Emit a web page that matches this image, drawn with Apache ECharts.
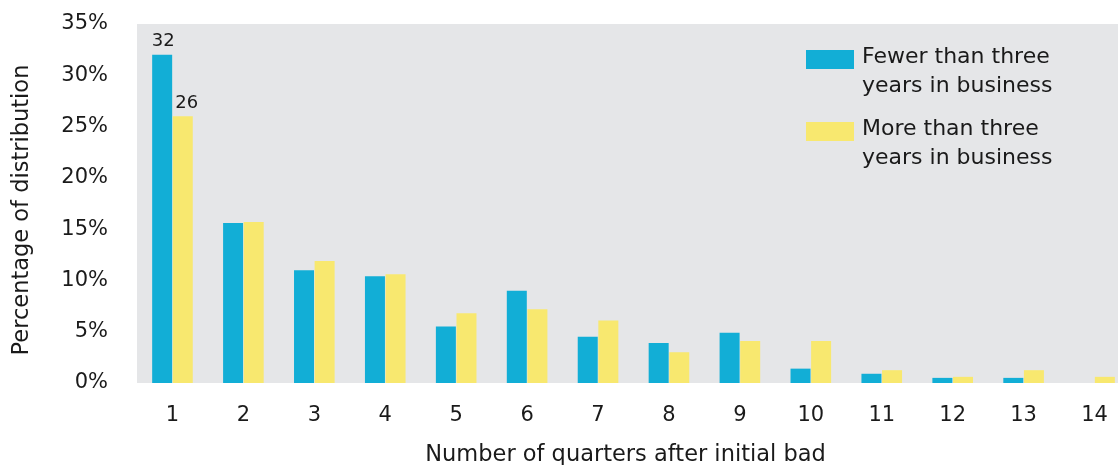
<!DOCTYPE html>
<html>
<head>
<meta charset="utf-8">
<script src="https://cdn.jsdelivr.net/npm/echarts@6/dist/echarts.min.js"></script>
<style>
  html, body { margin: 0; padding: 0; background: #fff; }
  #chart { width: 1118px; height: 465px; }
</style>
</head>
<body>
<div id="chart"></div>
<script>
// Quarters elapsed after the initial bad quarter
const quarters = ['1', '2', '3', '4', '5', '6', '7', '8', '9', '10', '11', '12', '13', '14'];

// Share of distribution (%) by firm age
const youngFirms = [32, 15.6, 11.0, 10.4, 5.5, 9.0, 4.5, 3.9, 4.9, 1.4, 0.9, 0.5, 0.5, 0];
const olderFirms = [26, 15.7, 11.9, 10.6, 6.8, 7.2, 6.1, 3.0, 4.1, 4.1, 1.25, 0.6, 1.25, 0.6];

const seriesNames = ['Fewer than three\nyears in business', 'More than three\nyears in business'];
const seriesColors = ['#12aed6', '#f8e86f'];

// Only the first quarter carries a value label
const labelledIndex = 0;

const FONT = '"DejaVu Sans", "Noto Sans", sans-serif';
const TEXT = '#1a1a1a';

function withLabel(values, dx) {
  return values.map((v, i) => i === labelledIndex
    ? { value: v, label: { show: true, position: 'top', distance: 4, offset: [dx, 0], fontSize: 18, fontFamily: FONT, color: TEXT, formatter: '{c}' } }
    : v);
}

const chart = echarts.init(document.getElementById('chart'), null, { renderer: 'canvas' });

const legendGraphics = [];
seriesNames.forEach((name, i) => {
  const top = 50 + i * 72;
  legendGraphics.push({
    type: 'rect', left: 806, top: top,
    shape: { width: 48, height: 19 },
    style: { fill: seriesColors[i] }
  });
  legendGraphics.push({
    type: 'text', left: 862, top: top - 7,
    style: { text: name, font: '22px ' + FONT, fill: TEXT, lineHeight: 29 }
  });
});

chart.setOption({
  animation: false,
  backgroundColor: '#ffffff',
  grid: {
    left: 137, top: 24, right: -12, bottom: 82,
    outerBoundsMode: 'none',
    containLabel: false,
    show: true, backgroundColor: '#e5e6e8', borderWidth: 0
  },
  xAxis: {
    type: 'category',
    data: quarters,
    axisLine: { show: false },
    axisTick: { show: false },
    axisLabel: { fontSize: 21, fontFamily: FONT, color: TEXT, margin: 22 },
    name: 'Number of quarters after initial bad',
    nameLocation: 'middle',
    nameGap: 61,
    nameTextStyle: { fontSize: 22.5, fontFamily: FONT, color: TEXT, padding: [0, 16, 0, 0] }
  },
  yAxis: {
    type: 'value',
    min: 0, max: 35, interval: 5,
    splitLine: { show: false },
    axisLine: { show: false },
    axisTick: { show: false },
    axisLabel: { formatter: '{value}%', fontSize: 21, fontFamily: FONT, color: TEXT, margin: 29 },
    name: 'Percentage of distribution',
    nameLocation: 'middle',
    nameGap: 103,
    nameTextStyle: { fontSize: 22.5, fontFamily: FONT, color: TEXT, padding: [0, 13, 0, 0] }
  },
  series: [
    {
      name: seriesNames[0], type: 'bar', data: withLabel(youngFirms, 1),
      barWidth: 20, barGap: '3%',
      itemStyle: { color: seriesColors[0] }
    },
    {
      name: seriesNames[1], type: 'bar', data: withLabel(olderFirms, 4),
      barWidth: 20, barGap: '3%',
      itemStyle: { color: seriesColors[1] }
    }
  ],
  graphic: legendGraphics
});
</script>
</body>
</html>
